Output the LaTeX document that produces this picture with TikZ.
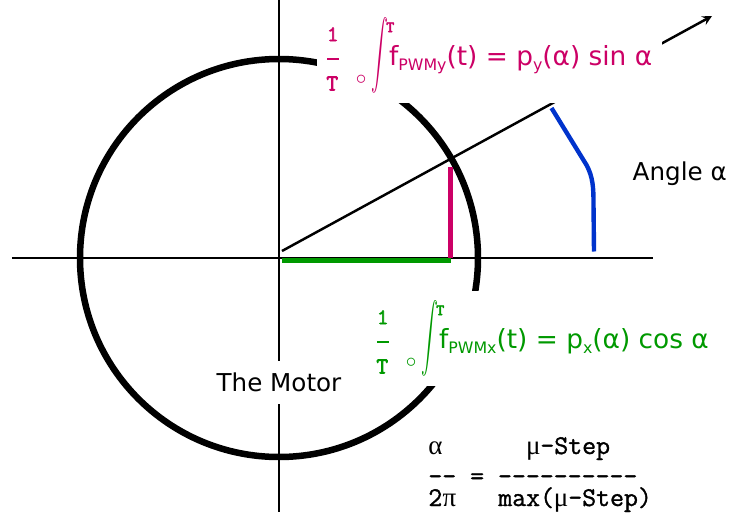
\documentclass[tikz,border=0pt]{standalone}
\usepackage{graphicx}
\usepackage{xcolor}
\usepackage{fontspec}
\setmainfont{DejaVu Sans}
\setmonofont{Latin Modern Mono}[FakeBold=1.2]
\newfontfamily\fracfont{Latin Modern Mono}[FakeBold=2.5]
\newfontfamily\greekfont{Liberation Serif}
\usepackage{tikz}

\definecolor{pwmpink}{RGB}{204,0,102}
\definecolor{pwmgreen}{RGB}{0,153,0}
\definecolor{angleblue}{RGB}{0,51,204}

% chỉ số dưới của tín hiệu PWM
\newcommand{\pwmsub}[1]{\raisebox{-3pt}{\fontsize{9}{9}\selectfont #1}}
% chữ Hy Lạp trong một ô của phông đơn cách
\newcommand{\gkcell}[1]{\makebox[0.525em]{\greekfont #1}}
% thừa số 1/T, vòng nhỏ và tích phân đến T
\newcommand{\pwmint}{%
  \hbox to 35.5pt{%
    \rlap{\hspace{0.2pt}\raisebox{13.6pt}{\fracfont\fontsize{12.5}{12}\selectfont 1}}%
    \rlap{\hspace{0.3pt}\rule[2.9pt]{6.8pt}{1pt}}%
    \rlap{\hspace{-0.2pt}\raisebox{-14.5pt}{\fracfont\fontsize{13}{12}\selectfont T}}%
    \rlap{\hspace{16.6pt}\raisebox{-10.9pt}{\fontsize{12}{12}\selectfont$\circ$}}%
    \rlap{\hspace{25.3pt}\raisebox{-15.9pt}{\resizebox{9.6pt}{43.1pt}{\raisebox{\depth}{$\displaystyle\int$}}}}%
    \hfil
    \rlap{\hspace{-1.7pt}\raisebox{18.7pt}{\fracfont\fontsize{9}{9}\selectfont T}}}}

\begin{document}
\begin{tikzpicture}[>=stealth,
    axisline/.style={line width=0.8pt},
    pwmlabel/.style={anchor=base west, fill=white, inner sep=5.5pt,
        font=\fontsize{15}{18}\selectfont},
    plainlabel/.style={font=\fontsize{14}{17}\selectfont},
    ratioline/.style={anchor=base west, inner sep=0pt,
        font=\ttfamily\fontsize{15.4}{18}\selectfont}]

    % =================================================================
    % 1. TỌA ĐỘ CÁC ĐIỂM CHÍNH
    % =================================================================
    \coordinate (O) at (0,0);
    \coordinate (XLeft) at (-5.34,0);
    \coordinate (XRight) at (7.48,0);
    \coordinate (YTop) at (0,5.16);
    \coordinate (YBottom) at (0,-5.08);

    % Tia góc alpha
    \coordinate (RayStart) at (0.06,0.14);
    \coordinate (RayTip) at (8.66,4.84);

    % Hình chiếu cos và sin
    \coordinate (CosStart) at (0.06,-0.05);
    \coordinate (CosEnd) at (3.44,-0.05);
    \coordinate (SinFoot) at (3.43,0);
    \coordinate (SinTop) at (3.43,1.82);

    % Cung chỉ góc
    \coordinate (ArcTop) at (5.45,3.0);
    \coordinate (ArcBend) at (6.15,1.86);
    \coordinate (ArcLow) at (6.29,1.1);
    \coordinate (ArcFoot) at (6.30,0.13);

    \useasboundingbox (-5.58,-5.08) rectangle (9.08,5.16);

    % =================================================================
    % 2. TRỤC, ĐỘNG CƠ VÀ TIA
    % =================================================================
    \draw[axisline] (XLeft) -- (XRight);
    \draw[axisline] (YTop) -- (YBottom);
    \draw[line width=3.7pt] (O) circle[radius=3.98];
    \draw[->, line width=1.4pt] (RayStart) -- (RayTip);

    \draw[pwmgreen, line width=2.6pt] (CosStart) -- (CosEnd);
    \draw[pwmpink, line width=2.8pt] (SinFoot) -- (SinTop);
    \draw[angleblue, line width=2.5pt] (ArcTop) -- (ArcBend)
        .. controls (6.28,1.62) and (6.29,1.4) .. (ArcLow) -- (ArcFoot);

    % =================================================================
    % 3. NHÃN VÀ CÔNG THỨC
    % =================================================================
    \node[pwmlabel, text=pwmpink] (pwmy) at (0.754,3.86)
        {\pwmint f\pwmsub{PWMy}(t) = p\pwmsub{y}(α) sin α};
    \node[pwmlabel, text=pwmgreen] (pwmx) at (1.754,-1.80)
        {\pwmint f\pwmsub{PWMx}(t) = p\pwmsub{x}(α) cos α};

    \node[plainlabel, anchor=base west] (angle) at (6.95,1.56) {Angle α};
    \node[plainlabel, anchor=base, fill=white, inner sep=7pt] (motor) at (0,-2.67) {The Motor};

    % Tỉ số góc / bước
    \node[ratioline] (ratiotop) at (2.98,-3.92) {\gkcell{α}~~~~~~\gkcell{μ}-Step};
    \node[ratioline] (ratiobar) at (2.98,-4.53) {--~=~----------};
    \node[ratioline] (ratiobot) at (2.98,-4.96) {2\gkcell{π}~~~max(\gkcell{μ}-Step)};

\end{tikzpicture}
\end{document}
